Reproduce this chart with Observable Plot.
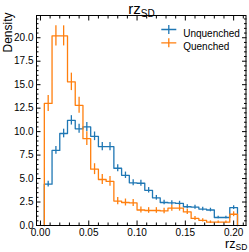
<!DOCTYPE html>
<html><head><meta charset="utf-8">
<script src="https://cdn.jsdelivr.net/npm/d3@7"></script>
<script src="https://cdn.jsdelivr.net/npm/@observablehq/plot@0.6"></script>
<style>
body{margin:0;background:#fff}
svg{font-family:"Liberation Sans",Arial,sans-serif}
</style>
</head><body><div id="chart"></div>
<script>
// Histogram binning (rz_SD), 25 bins
const binStart = 0.004;
const binWidth = 0.008;
const seriesNames = ["Unquenched", "Quenched"];
const seriesColors = ["#1f77b4", "#ff7f0e"];
const unquenched = [4.4, 8.0, 9.8, 11.2, 10.3, 10.5, 9.5, 8.4, 8.4, 6.1, 5.35, 4.55, 4.5, 3.75, 2.95, 2.45, 2.4, 2.35, 2.0, 1.95, 1.75, 1.65, 0.85, 0.85, 1.9];
const unquenchedErr = [0.31, 0.42, 0.46, 0.50, 0.48, 0.48, 0.46, 0.43, 0.43, 0.37, 0.34, 0.32, 0.31, 0.29, 0.25, 0.23, 0.23, 0.23, 0.21, 0.21, 0.20, 0.19, 0.14, 0.14, 0.20];
const quenched = [13.0, 20.2, 20.2, 15.3, 12.8, 9.25, 6.0, 4.9, 4.7, 2.6, 2.45, 2.4, 1.65, 1.6, 1.6, 1.55, 1.85, 1.85, 1.45, 0.75, 0.55, 0.35, 0.35, 0.35, 1.2];
const quenchedErr = [0.86, 1.07, 1.07, 0.93, 0.85, 0.73, 0.58, 0.53, 0.52, 0.38, 0.37, 0.37, 0.31, 0.30, 0.30, 0.30, 0.32, 0.32, 0.29, 0.21, 0.18, 0.14, 0.14, 0.14, 0.26];
const xTicks = [0, 0.05, 0.10, 0.15, 0.20];
const xTickLabels = ["0.00", "0.05", "0.10", "0.15", "0.20"];
const yTicks = [0, 2.5, 5, 7.5, 10, 12.5, 15, 17.5, 20];
const yTickLabels = ["0.0", "2.5", "5.0", "7.5", "10.0", "12.5", "15.0", "17.5", "20.0"];
const xMinorTicks = [0.01, 0.02, 0.03, 0.04, 0.06, 0.07, 0.08, 0.09, 0.11, 0.12, 0.13, 0.14, 0.16, 0.17, 0.18, 0.19, 0.21];
const yMinorTicks = [0.5, 1, 1.5, 2, 3, 3.5, 4, 4.5, 5.5, 6, 6.5, 7, 8, 8.5, 9, 9.5, 10.5, 11, 11.5, 12, 13, 13.5, 14, 14.5, 15.5, 16, 16.5, 17, 18, 18.5, 19, 19.5, 20.5, 21, 21.5, 22];
const xDomain = [-0.0041, 0.2128];
const yDomain = [0, 22.37];

const edge = i => binStart + binWidth * i;
function stepPoints(values, series) {
  const n = values.length;
  const pts = [{x: edge(0), y: 0, series}];
  values.forEach((v, i) => pts.push({x: edge(i), y: v, series}));
  pts.push({x: edge(n), y: values[n - 1], series});
  pts.push({x: edge(n), y: 0, series});
  return pts;
}
function errPoints(values, errs, series) {
  return values.map((v, i) => ({x: edge(i) + binWidth / 2, y1: v - errs[i], y2: v + errs[i], series}));
}
const seriesVals = [unquenched, quenched];
const seriesErrs = [unquenchedErr, quenchedErr];
const steps = seriesNames.flatMap((s, k) => stepPoints(seriesVals[k], s));
const errs = seriesNames.flatMap((s, k) => errPoints(seriesVals[k], seriesErrs[k], s));

const crossSymbol = {draw(ctx) { ctx.moveTo(-7.5, 0); ctx.lineTo(7.5, 0); ctx.moveTo(0, -4.5); ctx.lineTo(0, 4.5); }};
const fmt = (ticks, labels) => d => { const i = ticks.findIndex(t => Math.abs(t - d) < 1e-9); return i >= 0 ? labels[i] : ""; };
const none = () => "";

const legendMarks = seriesNames.flatMap((s, k) => [
  Plot.dot([s], {frameAnchor: "top-left", dx: 132.3, dy: 14 + 13.3 * k, symbol: crossSymbol, stroke: seriesColors[k], strokeWidth: 1.3, fill: "none"}),
  Plot.text([s], {frameAnchor: "top-left", dx: 146.7, dy: 14 + 13.3 * k, text: d => d, textAnchor: "start", fontSize: 10, fill: "black"})
]);

const chart = Plot.plot({
  width: 249, height: 252,
  marginLeft: 36, marginRight: 3.5, marginTop: 15, marginBottom: 27,
  x: {domain: xDomain, label: null},
  y: {domain: yDomain, label: null},
  color: {domain: seriesNames, range: seriesColors},
  style: {fontFamily: "Liberation Sans, Arial, sans-serif", background: "white"},
  marks: [
    Plot.lineY(steps, {x: "x", y: "y", z: "series", stroke: "series", curve: "step-after", strokeWidth: 1.3}),
    Plot.ruleX(errs, {x: "x", y1: "y1", y2: "y2", stroke: "series", strokeWidth: 1.3}),
    Plot.frame({stroke: "black", strokeWidth: 1}),
    Plot.axisX(xTicks, {anchor: "bottom", tickSize: -4.5, tickPadding: 8, tickFormat: fmt(xTicks, xTickLabels), fontSize: 10, label: null}),
    Plot.axisX(xMinorTicks, {anchor: "bottom", tickSize: -2.5, tickFormat: none, label: null}),
    Plot.axisX(xTicks, {anchor: "top", tickSize: -4.5, tickFormat: none, label: null}),
    Plot.axisX(xMinorTicks, {anchor: "top", tickSize: -2.5, tickFormat: none, label: null}),
    Plot.axisY(yTicks, {anchor: "left", tickSize: -4.5, tickPadding: 7.5, tickFormat: fmt(yTicks, yTickLabels), fontSize: 10, label: null}),
    Plot.axisY(yMinorTicks, {anchor: "left", tickSize: -2.5, tickFormat: none, label: null}),
    Plot.axisY(yTicks, {anchor: "right", tickSize: -4.5, tickFormat: none, label: null}),
    Plot.axisY(yMinorTicks, {anchor: "right", tickSize: -2.5, tickFormat: none, label: null}),
    // title rz_SD
    Plot.text(["rz"], {frameAnchor: "top", dx: -0.5, dy: -1.7, text: d => d, textAnchor: "end", lineAnchor: "bottom", fontSize: 15, fill: "black"}),
    Plot.text(["SD"], {frameAnchor: "top", dx: -0.5, dy: 1, text: d => d, textAnchor: "start", lineAnchor: "bottom", fontSize: 10, fill: "black"}),
    // x label rz_SD
    Plot.text(["rz"], {frameAnchor: "bottom-right", dx: -10.5, dy: 22, text: d => d, textAnchor: "end", lineAnchor: "bottom", fontSize: 12.5, fill: "black"}),
    Plot.text(["SD"], {frameAnchor: "bottom-right", dx: -10.5, dy: 24.5, text: d => d, textAnchor: "start", lineAnchor: "bottom", fontSize: 8.5, fill: "black"}),
    // y label
    Plot.text(["Density"], {frameAnchor: "top-left", dx: -28.5, dy: -3, text: d => d, rotate: -90, textAnchor: "end", lineAnchor: "middle", fontSize: 12, fill: "black"}),
    ...legendMarks
  ]
});
document.getElementById("chart").appendChild(chart);
</script>
</body></html>
